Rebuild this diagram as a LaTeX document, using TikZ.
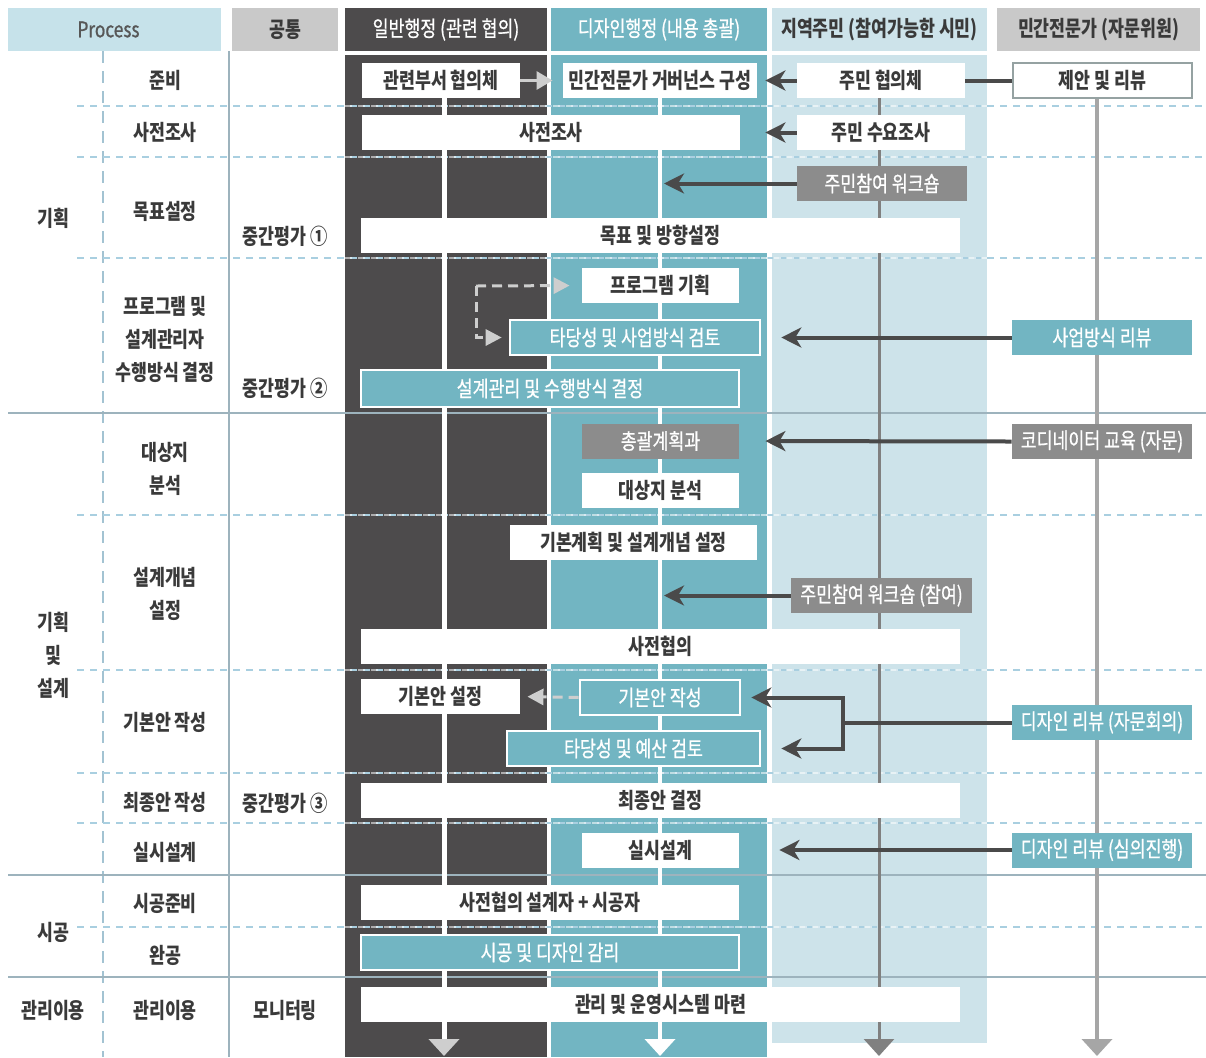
\documentclass[tikz,border=0pt]{standalone}
\usepackage{fontspec}
\setmainfont{Noto Sans CJK KR}[FakeStretch=0.8]
\newfontfamily\krmed{Noto Sans CJK KR}[FakeStretch=0.8,FakeBold=0.8]
\usetikzlibrary{arrows.meta}
\definecolor{govdark}{RGB}{77,75,76}
\definecolor{desteal}{RGB}{114,181,194}
\definecolor{citblue}{RGB}{205,227,234}
\definecolor{procblue}{RGB}{198,226,234}
\definecolor{headgray}{RGB}{201,201,201}
\definecolor{boxgray}{RGB}{140,140,140}
\definecolor{txtdark}{RGB}{58,58,58}
\definecolor{arrdark}{RGB}{74,74,74}
\definecolor{citline}{RGB}{128,128,128}
\definecolor{expline}{RGB}{166,166,166}
\definecolor{sepblue}{RGB}{169,207,224}
\definecolor{rulegray}{RGB}{157,179,189}
\definecolor{paledash}{RGB}{206,206,206}
\pgfdeclarelayer{back}
\pgfdeclarelayer{mid}
\pgfsetlayers{back,mid,main}

\begin{document}
\begin{tikzpicture}[x=0.5pt,y=-0.5pt,
  font=\fontsize{10.8}{16.5}\selectfont\krmed,
  head/.style={inner sep=0pt,minimum height=21.5pt},
  lbl/.style={text=txtdark,align=center,font=\fontsize{10.8}{16.5}\selectfont\bfseries},
  box/.style={inner sep=0pt,minimum height=17.5pt},
  wbox/.style={box,fill=white,text=txtdark,font=\fontsize{10.8}{12}\selectfont\bfseries},
  tbox/.style={box,fill=desteal,draw=white,line width=1.3pt,text=white},
  sbox/.style={box,fill=desteal,text=white},
  gbox/.style={box,fill=boxgray,text=white},
  arr/.style={draw=arrdark,line width=2pt,-{Stealth[length=10pt,width=10pt,inset=3pt]}},
  darr/.style={draw=paledash,line width=1.5pt,dash pattern=on 5pt off 3pt,-{Triangle[length=8pt,width=8pt]}},
  sepdash/.style={draw=sepblue,line width=0.6pt,dash pattern=on 3.5pt off 3pt},
  sepline/.style={draw=rulegray,line width=0.6pt}]
\useasboundingbox (0,0) rectangle (1206,1057);

\begin{pgfonlayer}{back}
\fill[govdark] (345,55) rectangle (547,1057);
\fill[desteal] (551,55) rectangle (767,1057);
\fill[citblue] (772,55) rectangle (987,1043);
\draw[sepline] (229,51) -- (229,1057);
\draw[draw=sepblue!85!gray,line width=1pt,dash pattern=on 6pt off 4pt] (103,51) -- (103,1057);
\draw[sepdash] (77,106) -- (1206,106) (77,157) -- (1206,157) (77,258) -- (1206,258)
  (77,515) -- (1206,515) (77,670) -- (1206,670) (77,773) -- (1206,773)
  (77,823) -- (1206,823) (77,927) -- (1206,927);
\draw[sepdash,draw=white,opacity=0.55] (345,106) -- (987,106) (345,157) -- (987,157)
  (345,258) -- (987,258) (345,515) -- (987,515) (345,670) -- (987,670)
  (345,773) -- (987,773) (345,823) -- (987,823) (345,927) -- (987,927);
\draw[sepline] (8,413) -- (1206,413) (8,875) -- (1206,875) (8,977) -- (1206,977);
\end{pgfonlayer}

\node[head,fill=procblue,minimum width=106.5pt,text=txtdark!85] (hproc) at (114.5,29.5) {\hspace*{-6pt}Process};
\node[head,fill=headgray,minimum width=53pt,text=txtdark,font=\fontsize{10.8}{12}\selectfont\bfseries] (hcom) at (285,29.5) {공통};
\node[head,fill=govdark,minimum width=101pt,text=white] (hgov) at (446,29.5) {일반행정 (관련 협의)};
\node[head,fill=desteal,minimum width=108pt,text=white] (hdes) at (659,29.5) {디자인행정 (내용 총괄)};
\node[head,fill=citblue,minimum width=107.5pt,text=txtdark,font=\fontsize{10.8}{12}\selectfont\bfseries] (hcit) at (879.5,29.5) {지역주민 (참여가능한 시민)};
\node[head,fill=headgray,minimum width=101.5pt,text=txtdark,font=\fontsize{10.8}{12}\selectfont\bfseries] (hexp) at (1098.5,29.5) {민간전문가 (자문위원)};

\node[lbl] (sec1) at (53,218) {기획};
\node[lbl] (sec2) at (53,655) {기획\\및\\설계};
\node[lbl] (sec3) at (53,932) {시공};
\node[lbl] (sec4) at (53,1010) {관리이용};

\node[lbl] (st1) at (165,80) {준비};
\node[lbl] (st2) at (165,132) {사전조사};
\node[lbl] (st3) at (165,211) {목표설정};
\node[lbl] (st4) at (165,339) {프로그램 및\\설계관리자\\수행방식 결정};
\node[lbl] (st5) at (165,469) {대상지\\분석};
\node[lbl] (st6) at (165,594) {설계개념\\설정};
\node[lbl] (st7) at (165,722) {기본안 작성};
\node[lbl] (st8) at (165,802) {최종안 작성};
\node[lbl] (st9) at (165,852) {실시설계};
\node[lbl] (st10) at (165,903) {시공준비};
\node[lbl] (st11) at (165,955) {완공};
\node[lbl] (st12) at (165,1010) {관리이용};

\node[lbl] (mid1) at (285,236) {중간평가 ①};
\node[lbl] (mid2) at (285,388) {중간평가 ②};
\node[lbl] (mid3) at (285,803) {중간평가 ③};
\node[lbl] (mon) at (285,1010) {모니터링};

\node[wbox,minimum width=79pt] (gov1) at (441,80.5) {관련부서 협의체};
\node[wbox,minimum width=97pt] (des1) at (660,80.5) {민간전문가 거버넌스 구성};
\node[wbox,minimum width=84pt] (cit1) at (881,80.5) {주민 협의체};
\node[wbox,draw=expline!90!teal,line width=1pt,minimum width=89.5pt] (exp1) at (1102.5,80.5) {제안 및 리뷰};
\node[wbox,minimum width=189pt] (pre) at (551,132.5) {사전조사};
\node[wbox,minimum width=84pt] (cit2) at (881,132.5) {주민 수요조사};
\node[gbox,minimum width=85pt] (cit3) at (882,183.5) {주민참여 워크숍};
\node[wbox,minimum width=299.5pt] (goal) at (660.5,235.5) {목표 및 방향설정};
\node[wbox,minimum width=78.5pt] (prog) at (660.5,285.5) {프로그램 기획};
\node[tbox,minimum width=125pt] (feas) at (635,337.5) {타당성 및 사업방식 검토};
\node[sbox,minimum width=90pt] (exp2) at (1102,337.5) {사업방식 리뷰};
\node[tbox,minimum width=189pt,minimum height=18.5pt] (mgmt) at (550,388.5) {설계관리 및 수행방식 결정};
\node[gbox,minimum width=78.5pt] (coord) at (660.5,441) {총괄계획과};
\node[gbox,minimum width=90pt] (exp3) at (1102,441.5) {코디네이터 교육 (자문)};
\node[wbox,minimum width=78.5pt] (site) at (660.5,490) {대상지 분석};
\node[wbox,minimum width=123.5pt] (concept) at (633.5,542.5) {기본계획 및 설계개념 설정};
\node[gbox,minimum width=90.5pt] (cit4) at (881.5,595.5) {주민참여 워크숍 (참여)};
\node[wbox,minimum width=299.5pt] (consult) at (660.5,646) {사전협의};
\node[wbox,minimum width=79.5pt] (bset) at (440.5,696.5) {기본안 설정};
\node[tbox,minimum width=80pt] (bdraft) at (660,697.5) {기본안 작성};
\node[tbox,minimum width=126.5pt] (budget) at (633.5,748.5) {타당성 및 예산 검토};
\node[sbox,minimum width=90pt] (exp4) at (1102,722.5) {디자인 리뷰 (자문회의)};
\node[wbox,minimum width=299.5pt] (final) at (660.5,800.5) {최종안 결정};
\node[wbox,minimum width=78.5pt] (exec) at (660.5,850) {실시설계};
\node[sbox,minimum width=90pt] (exp5) at (1102,850) {디자인 리뷰 (심의진행)};
\node[wbox,minimum width=189pt] (cprep) at (550,902) {사전협의 설계자 + 시공자};
\node[tbox,minimum width=189pt] (super) at (550,952.5) {시공 및 디자인 감리};
\node[wbox,minimum width=299.5pt] (oper) at (660.5,1004.5) {관리 및 운영시스템 마련};

\coordinate (govend) at (444,1056);
\coordinate (desend) at (660,1056);
\coordinate (citend) at (879,1056);
\coordinate (expend) at (1097,1056);
\begin{pgfonlayer}{mid}
\draw[white,line width=2.5pt,-{Triangle[length=8.5pt,width=15pt,color=paledash]}] (gov1.south -| govend) -- (govend);
\draw[white,line width=2pt,-{Triangle[length=8.5pt,width=15pt]}] (des1.south -| desend) -- (desend);
\draw[citline,line width=1.5pt,-{Triangle[length=8.5pt,width=15pt]}] (cit1.south -| citend) -- (citend);
\draw[expline,line width=2pt,-{Triangle[length=8.5pt,width=15pt]}] (exp1.south -| expend) -- (expend);
\end{pgfonlayer}

\draw[draw=paledash,line width=1.5pt,-{Triangle[length=8pt,width=9pt]},shorten >=5pt] (gov1.east) -- (des1.west);
\draw[arr,shorten >=4pt] (cit1.west) -- (des1.east);
\draw[draw=arrdark,line width=2pt] (exp1.west) -- (cit1.east);
\draw[arr,shorten >=12.5pt] (cit2.west) -- (pre.east);
\coordinate (ws1end) at (664,183.5);
\draw[arr] (cit3.west) -- (ws1end);
\coordinate (dcorner) at (476,286);
\draw[darr,shorten >=6pt] (dcorner) -- (prog.west);
\draw[darr,shorten >=3.5pt] (dcorner) |- (feas.west);
\draw[arr,shorten >=10pt] (exp2.west) -- (feas.east);
\draw[arr,shorten >=13pt] (exp3.west) -- (coord.east);
\coordinate (ws2end) at (664,595.5);
\draw[arr] (cit4.west) -- (ws2end);
\draw[darr,shorten >=3.5pt] (bdraft.west) -- (bset.east);
\coordinate (fork) at (843,722.5);
\draw[draw=arrdark,line width=2pt] (exp4.west) -- (fork);
\draw[arr,shorten >=5pt] (fork) |- (bdraft.east);
\draw[arr,shorten >=10pt] (fork) |- (budget.east);
\draw[arr,shorten >=20pt] (exp5.west) -- (exec.east);
\end{tikzpicture}
\end{document}
